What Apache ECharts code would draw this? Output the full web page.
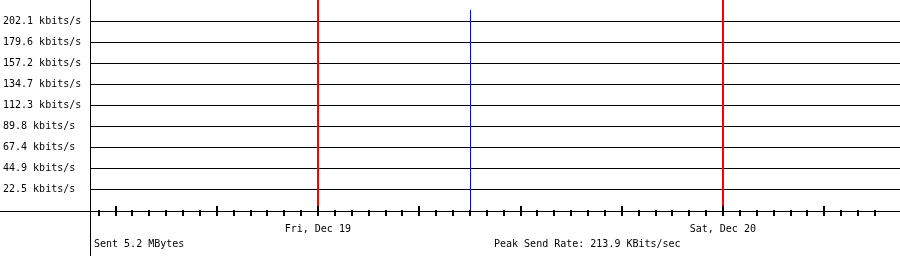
<!DOCTYPE html>
<html>
<head>
<meta charset="utf-8">
<script src="https://cdn.jsdelivr.net/npm/echarts@6/dist/echarts.min.js"></script>
<style>
html,body{margin:0;padding:0;background:#fff;overflow:hidden;}
#chart{width:900px;height:256px;}
</style>
</head>
<body>
<div id="chart"></div>
<script>
// ---- data ----
// x values are hours since Thu, Dec 18 00:00
const xMin = 10.5;
const xMax = 58.5;
const dayBoundaries = [24, 48];
const dayLabels = ['Fri, Dec 19', 'Sat, Dec 20'];
const sendTimes = [33.05];
const sendRates = [213.9]; // kbits/s
const yStep = 22.456;
const yMax = 224.56;
const yTickLabels = ['22.5 kbits/s', '44.9 kbits/s', '67.4 kbits/s', '89.8 kbits/s',
  '112.3 kbits/s', '134.7 kbits/s', '157.2 kbits/s', '179.6 kbits/s', '202.1 kbits/s'];
const sentTotal = 'Sent 5.2 MBytes';
const peakLabel = 'Peak Send Rate: ' + Math.max.apply(null, sendRates).toFixed(1) + ' KBits/sec';

const hourTicks = [];
for (let h = 11; h <= 57; h++) hourTicks.push(h);
const sixHourTicks = [12, 18, 24, 30, 36, 42, 48, 54];

const font = 'DejaVu Sans Mono';
const chart = echarts.init(document.getElementById('chart'), null, {renderer: 'canvas'});
chart.setOption({
  animation: false,
  backgroundColor: '#ffffff',
  grid: {left: 90, top: 0, width: 810, height: 210, containLabel: false},
  xAxis: [{
    type: 'value', min: xMin, max: xMax, offset: 1, z: 10,
    axisLine: {show: false},
    splitLine: {show: false},
    axisTick: {show: true, customValues: hourTicks, length: 6, inside: false,
      lineStyle: {color: '#000', width: 2}},
    axisLabel: {show: true, customValues: dayBoundaries, margin: 13,
      fontFamily: font, fontSize: 10, color: '#000',
      formatter: function (v) { const i = dayBoundaries.indexOf(Math.round(v)); return i >= 0 ? dayLabels[i] : ''; }}
  }, {
    type: 'value', min: xMin, max: xMax, offset: 1, z: 10, position: 'bottom',
    axisLine: {show: false},
    splitLine: {show: false},
    axisTick: {show: true, customValues: sixHourTicks, length: 5, inside: true,
      lineStyle: {color: '#000', width: 2}},
    axisLabel: {show: false}
  }],
  yAxis: {
    type: 'value', min: 0, max: yMax, interval: yStep,
    axisLine: {show: false},
    axisTick: {show: false},
    splitLine: {show: true, showMinLine: false, showMaxLine: false, lineStyle: {color: '#000', width: 1}},
    axisLabel: {show: true, showMinLabel: false, showMaxLabel: false, align: 'left', margin: 87,
      padding: [2, 0, 0, 0],
      fontFamily: font, fontSize: 10, color: '#000',
      formatter: function (v) { const i = Math.round(v / yStep) - 1; return yTickLabels[i] || ''; }}
  },
  series: [{
    type: 'bar',
    xAxisIndex: 0,
    barWidth: 1,
    itemStyle: {color: '#0000ff'},
    data: sendTimes.map((t, i) => [t, sendRates[i]]),
    markLine: {
      silent: true, symbol: 'none', label: {show: false},
      lineStyle: {color: '#ff0000', width: 2, type: 'solid'},
      data: dayBoundaries.map(d => ({xAxis: d}))
    }
  }],
  graphic: [
    {type: 'line', z: 20, shape: {x1: 90.5, y1: 0, x2: 90.5, y2: 256}, style: {stroke: '#000', lineWidth: 1}},
    {type: 'line', z: 20, shape: {x1: 0, y1: 211.5, x2: 900, y2: 211.5}, style: {stroke: '#000', lineWidth: 1}},
    {type: 'text', left: 94, top: 239, style: {text: sentTotal, font: '10px "DejaVu Sans Mono"', fill: '#000'}},
    {type: 'text', left: 494, top: 239, style: {text: peakLabel, font: '10px "DejaVu Sans Mono"', fill: '#000'}}
  ]
});
</script>
</body>
</html>
